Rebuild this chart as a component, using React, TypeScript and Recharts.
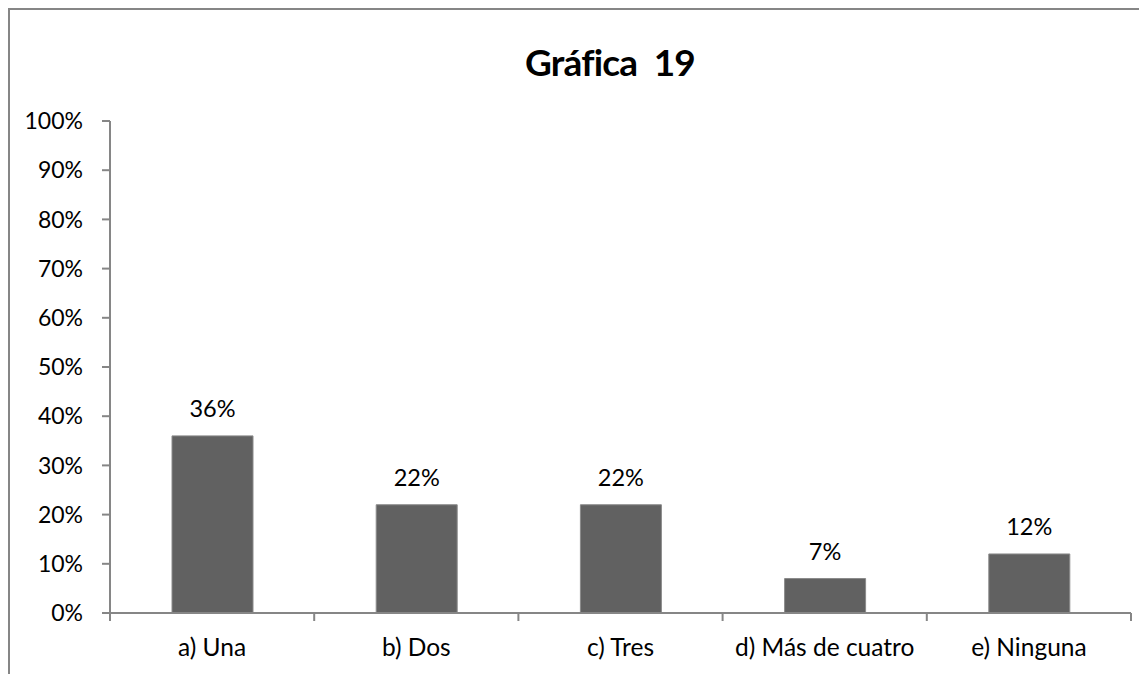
import React from "react";
import { BarChart, Bar, XAxis, YAxis, LabelList } from "recharts";

const categories = ["a) Una", "b) Dos", "c) Tres", "d) Más de cuatro", "e) Ninguna"];
const values = [0.36, 0.22, 0.22, 0.07, 0.12];
const yTicks = [0, 0.1, 0.2, 0.3, 0.4, 0.5, 0.6, 0.7, 0.8, 0.9, 1];
const title = "Gráfica\u00a0\u00a019";

const data = categories.map((c, i) => ({ name: c, value: values[i] }));

const FONT = "Lato, 'Noto Sans', sans-serif";
const AXIS = "#868686";
const W = 1137;
const H = 664;

const pct = (v: number) => `${Math.round(v * 100)}%`;

const XTick = (props: any) => {
  const { x, y, payload, index } = props;
  const half = payload && payload.offset ? payload.offset : 102.1;
  const last = index === categories.length - 1;
  return (
    <g>
      <line x1={x - half} x2={x - half} y1={y} y2={y + 8} stroke={AXIS} strokeWidth={2} />
      {last && <line x1={x + half} x2={x + half} y1={y} y2={y + 8} stroke={AXIS} strokeWidth={2} />}
      <text x={x} y={y + 43} textAnchor="middle" fontFamily={FONT} fontSize={24.5} fill="#000">
        {payload.value}
      </text>
    </g>
  );
};

export default function App() {
  return (
    <div
      style={{
        position: "relative",
        width: W,
        height: H,
        borderTop: `2px solid ${AXIS}`,
        borderLeft: `2px solid ${AXIS}`,
        background: "#fff",
      }}
    >
      <style>{"html,body{overflow:hidden}"}</style>
      <BarChart
        width={W}
        height={H}
        data={data}
        margin={{ top: 111, right: 16, bottom: 0, left: 0 }}
        barCategoryGap={0}
      >
        <YAxis
          type="number"
          domain={[0, 1]}
          ticks={yTicks}
          tickFormatter={pct}
          width={100}
          interval={0}
          axisLine={{ stroke: AXIS, strokeWidth: 2 }}
          tickLine={{ stroke: AXIS, strokeWidth: 2 }}
          tickSize={8}
          tickMargin={19}
          tick={{ fill: "#000", fontSize: 23, fontFamily: FONT }}
        />
        <XAxis
          dataKey="name"
          height={61}
          interval={0}
          axisLine={{ stroke: AXIS, strokeWidth: 2 }}
          tickLine={false}
          tickSize={0}
          tickMargin={0}
          tick={<XTick />}
        />
        <Bar dataKey="value" fill="#616161" stroke="#8a8a8a" strokeWidth={1} barSize={81} isAnimationActive={false}>
          <LabelList
            dataKey="value"
            position="top"
            offset={19}
            formatter={(v: any) => pct(Number(v))}
            style={{ fill: "#000", fontSize: 23.5, fontFamily: FONT }}
          />
        </Bar>
      </BarChart>
      <svg width={W} height={100} style={{ position: "absolute", left: 0, top: 0, pointerEvents: "none" }}>
        <text x={600} y={66} textAnchor="middle" fontFamily={FONT} fontWeight={700} fontSize={37} letterSpacing={-0.8} fill="#000">
          {title}
        </text>
      </svg>
    </div>
  );
}
